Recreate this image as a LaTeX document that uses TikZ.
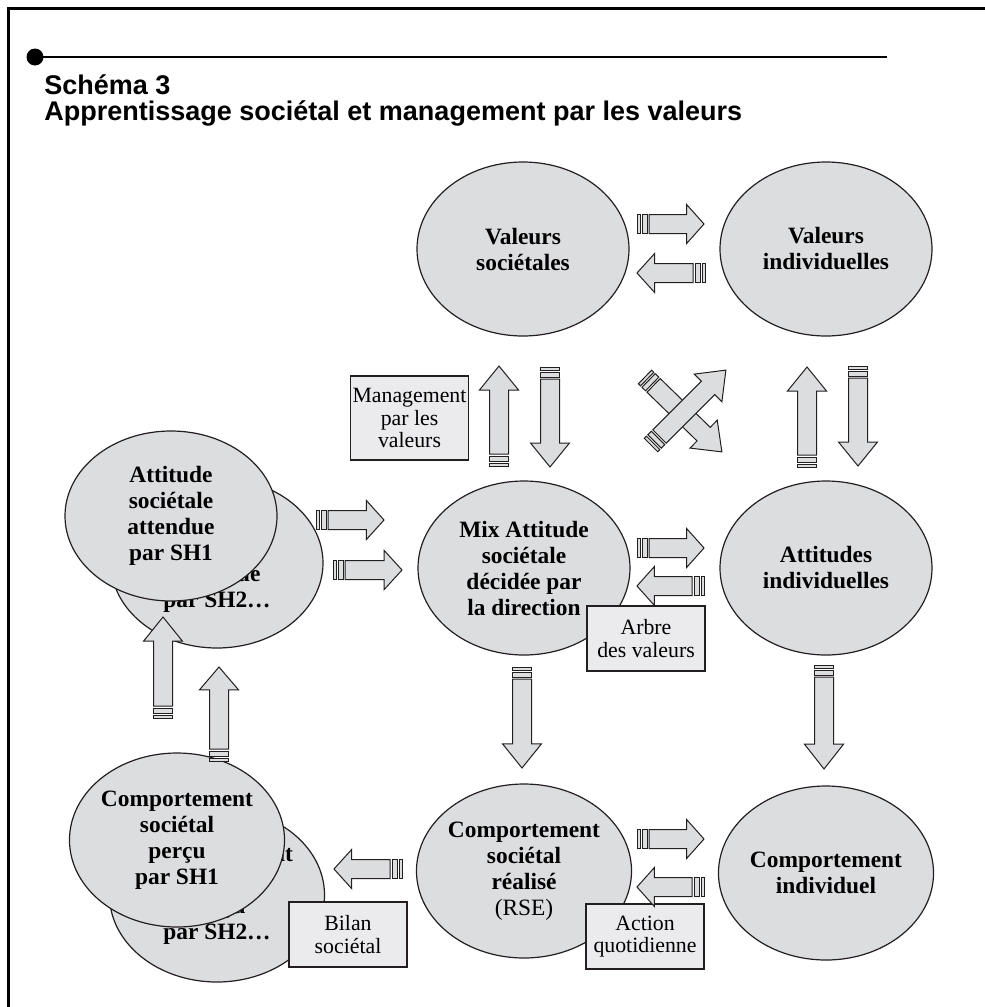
\documentclass[tikz,border=0pt]{standalone}
\usepackage{fontspec}
\setmainfont{Liberation Serif}
\newfontfamily\titlefont{Liberation Sans}
\usetikzlibrary{calc,shapes.geometric}
\definecolor{DiagFill}{RGB}{220,221,223}
\definecolor{TagFill}{RGB}{235,235,237}
\definecolor{DiagLine}{RGB}{35,31,32}

\tikzset{
  pics/flowarr/.style={code={
    \pgfmathsetmacro\arrL{#1}
    \pgfmathsetmacro\arrH{0.2*\arrL+4}
    \draw[arrbody] (12,-9.5) -- ({\arrL-\arrH},-9.5) -- ({\arrL-\arrH},-19.5) -- (\arrL,0)
      -- ({\arrL-\arrH},19.5) -- ({\arrL-\arrH},9.5) -- (12,9.5) -- cycle;
    \draw[arrbody] (5,-9.5) rectangle (10,9.5);
    \draw[arrbody] (0,-9.5) rectangle (3,9.5);
  }},
  arrbody/.style={draw=DiagLine,fill=DiagFill,line width=0.5pt,line join=miter}
}
% block arrow with striped tail, from tail point to tip point
\newcommand{\flowto}[2]{%
  \path let \p1=($(#2)-(#1)$), \n1={2*veclen(\x1,\y1)}, \n2={atan2(\y1,\x1)}
    in (#1) pic[rotate=\n2] {flowarr=\n1};}

\begin{document}
\begin{tikzpicture}[x=0.5pt,y=-0.5pt,
  blob/.style={ellipse,draw=DiagLine,fill=DiagFill,line width=0.6pt,
    minimum width=106pt,minimum height=87pt,inner sep=0pt,align=center,
    font=\bfseries\fontsize{11.7}{13}\selectfont},
  tag/.style={draw=DiagLine,fill=TagFill,line width=0.6pt,
    minimum width=59pt,minimum height=32.5pt,inner sep=0pt,align=center,
    font=\fontsize{10.9}{11.2}\selectfont},
  headline/.style={anchor=base west,inner sep=0pt,
    font=\titlefont\bfseries\fontsize{13.5}{15}\selectfont}
]
\useasboundingbox (0,0) rectangle (985,1007);

% frame and heading
\draw[line width=1.5pt] (8.5,1007) -- (8.5,8) -- (985,8);
\fill (35,57) circle (8.5);
\draw[line width=1pt] (35,57) -- (887,57);
\node[headline] (schema) at (44,94) {Schéma 3};
\node[headline] (titre) at (44,120) {Apprentissage sociétal et management par les valeurs};

% ellipses
\node[blob] (vs) at (523,249) {Valeurs\\sociétales};
\node[blob] (vi) at (826,249) {Valeurs\\individuelles};
\node[blob] (mix) at (524,568) {Mix Attitude\\sociétale\\décidée par\\la direction};
\node[blob] (ai) at (826,568) {Attitudes\\individuelles};
\node[blob] (cr) at (524,871) {Comportement\\sociétal\\réalisé\\\mdseries(RSE)};
\node[blob] (ci) at (826,873) {Comportement\\individuel};
\node[blob,minimum height=85pt] (att2) at (217,563) {Attitude\\sociétale\\attendue\\par SH2\dots};
\node[blob,minimum height=85pt] (att1) at (171,516) {Attitude\\sociétale\\attendue\\par SH1};
\node[blob] (cp2) at (217,895) {Comportement\\sociétal\\perçu\\par SH2\dots};
\node[blob] (cp1) at (177,840) {Comportement\\sociétal\\perçu\\par SH1};

% labels
\node[tag,minimum height=42pt] (mgmt) at (409.5,418) {Management\\par les\\valeurs};
\node[tag] (arbre) at (646,638.5) {Arbre\\des valeurs};
\node[tag] (bilan) at (348,934.5) {Bilan\\sociétal};
\node[tag] (action) at (645,936.5) {Action\\quotidienne};

% arrow ends
\coordinate (vs-vi-t) at (637,224);  \coordinate (vs-vi-h) at (704,224);
\coordinate (vi-vs-t) at (705,273);  \coordinate (vi-vs-h) at (637,273);
\coordinate (mix-ai-t) at (637,548); \coordinate (mix-ai-h) at (704,548);
\coordinate (ai-mix-t) at (704,586); \coordinate (ai-mix-h) at (637,586);
\coordinate (cr-ci-t) at (637,839);  \coordinate (cr-ci-h) at (704,839);
\coordinate (ci-cr-t) at (704,887);  \coordinate (ci-cr-h) at (637,887);
\coordinate (cr-cp-t) at (402,869);  \coordinate (cr-cp-h) at (334,869);
\coordinate (att1-mix-t) at (316,520); \coordinate (att1-mix-h) at (384,520);
\coordinate (att2-mix-t) at (333,570); \coordinate (att2-mix-h) at (402,570);
\coordinate (mix-vs-t) at (499,466); \coordinate (mix-vs-h) at (499,366);
\coordinate (vs-mix-t) at (550,367); \coordinate (vs-mix-h) at (550,467);
\coordinate (mix-cr-t) at (522,667); \coordinate (mix-cr-h) at (522,768);
\coordinate (ai-vi-t) at (807,467);  \coordinate (ai-vi-h) at (807,367);
\coordinate (vi-ai-t) at (858,366);  \coordinate (vi-ai-h) at (858,466);
\coordinate (ai-ci-t) at (824,665);  \coordinate (ai-ci-h) at (824,769);
\coordinate (cp-att1-t) at (163,718); \coordinate (cp-att1-h) at (163,617);
\coordinate (cp-att2-t) at (219,761); \coordinate (cp-att2-h) at (219,667);
\coordinate (vs-ai-t) at (645,377);  \coordinate (vs-ai-h) at (722,452);
\coordinate (mix-vi-t) at (651,445); \coordinate (mix-vi-h) at (726,370);

% arrows
\flowto{vs-vi-t}{vs-vi-h}   \flowto{vi-vs-t}{vi-vs-h}
\flowto{mix-ai-t}{mix-ai-h} \flowto{ai-mix-t}{ai-mix-h}
\flowto{cr-ci-t}{cr-ci-h}   \flowto{ci-cr-t}{ci-cr-h}
\flowto{cr-cp-t}{cr-cp-h}
\flowto{att1-mix-t}{att1-mix-h} \flowto{att2-mix-t}{att2-mix-h}
\flowto{mix-vs-t}{mix-vs-h} \flowto{vs-mix-t}{vs-mix-h}
\flowto{mix-cr-t}{mix-cr-h}
\flowto{ai-vi-t}{ai-vi-h}   \flowto{vi-ai-t}{vi-ai-h}
\flowto{ai-ci-t}{ai-ci-h}
\flowto{cp-att1-t}{cp-att1-h} \flowto{cp-att2-t}{cp-att2-h}
\flowto{vs-ai-t}{vs-ai-h}   \flowto{mix-vi-t}{mix-vi-h}
\end{tikzpicture}
\end{document}
